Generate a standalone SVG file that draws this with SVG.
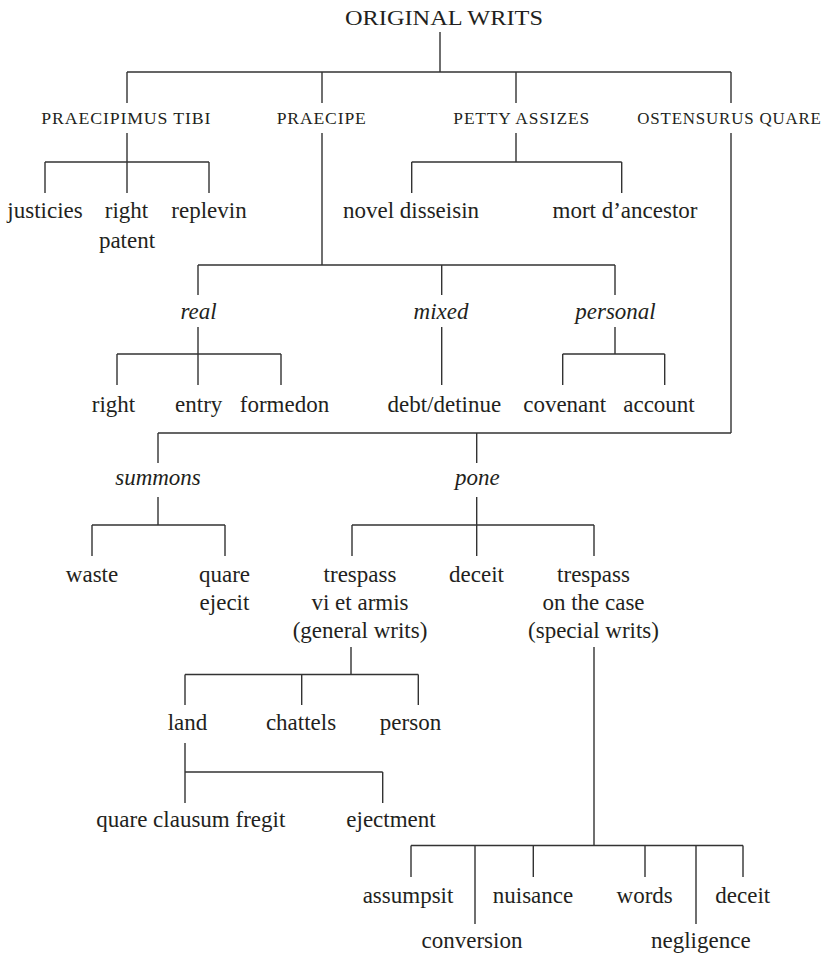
<svg xmlns="http://www.w3.org/2000/svg" width="828" height="955" viewBox="0 0 828 955">
<style>
  text { font-family: "Liberation Serif", "Times New Roman", serif; fill: #231f20; text-anchor: middle; }
  .n { font-size: 23px; }
  .i { font-size: 23px; font-style: italic; }
  .sc { font-size: 16.5px; letter-spacing: 0.8px; }
  .root { font-size: 22px; }
  #connectors path { fill: none; stroke: #333; stroke-width: 1.4; }
</style>
<rect width="828" height="955" fill="#ffffff"/>
<g id="connectors">
  <path d="M440,32V72 M127,72H731 M127,72V103 M322,72V103 M516,72V103 M731,72V103"/>
  <path d="M127,133V193 M45,162H209 M45,162V193 M209,162V193"/>
  <path d="M516,133V162 M411.7,162H621.7 M411.7,162V193 M621.7,162V193"/>
  <path d="M322,133V265 M198,265H615 M198,265V295 M441.7,265V295 M615,265V295"/>
  <path d="M198,327V385 M117,354H281 M117,354V385 M281,354V385"/>
  <path d="M441.7,327V385"/>
  <path d="M615,327V354 M562.7,354H664.7 M562.7,354V385 M664.7,354V385"/>
  <path d="M731,133V433 M158,433H731 M158,433V463 M476.7,433V463"/>
  <path d="M158,497V525 M92,525H225 M92,525V556 M225,525V556"/>
  <path d="M476.7,497V556 M352,525H594 M352,525V556 M594,525V556"/>
  <path d="M351,647V674.5 M185,674.5H418.3 M185,674.5V705 M301.7,674.5V705 M418.3,674.5V705"/>
  <path d="M185,743V803 M185,772H382.7 M382.7,772V803"/>
  <path d="M594,647V845.5 M411,845.5H743 M411,845.5V877 M475,845.5V924 M533.3,845.5V877 M645,845.5V877 M696,845.5V924 M743,845.5V877"/>
</g>
<g id="original-writs"><text class="root" x="444" y="25" textLength="198" lengthAdjust="spacingAndGlyphs">ORIGINAL WRITS</text></g>
<g id="praecipimus-tibi"><text class="sc" x="126.3" y="124" textLength="170" lengthAdjust="spacingAndGlyphs">PRAECIPIMUS TIBI</text></g>
<g id="praecipe"><text class="sc" x="321.7" y="124" textLength="90" lengthAdjust="spacingAndGlyphs">PRAECIPE</text></g>
<g id="petty-assizes"><text class="sc" x="521.7" y="124" textLength="136.7" lengthAdjust="spacingAndGlyphs">PETTY ASSIZES</text></g>
<g id="ostensurus-quare"><text class="sc" x="729.5" y="124" textLength="184.3" lengthAdjust="spacingAndGlyphs">OSTENSURUS QUARE</text></g>
<g id="justicies"><text class="n" x="45" y="218">justicies</text></g>
<g id="right-patent"><text class="n" x="126.5" y="218">right</text><text class="n" x="127" y="248">patent</text></g>
<g id="replevin"><text class="n" x="209" y="218">replevin</text></g>
<g id="novel-disseisin"><text class="n" x="411" y="218">novel disseisin</text></g>
<g id="mort-dancestor"><text class="n" x="625" y="218">mort d’ancestor</text></g>
<g id="real"><text class="i" x="198.5" y="319">real</text></g>
<g id="mixed"><text class="i" x="441" y="319">mixed</text></g>
<g id="personal"><text class="i" x="615.5" y="319">personal</text></g>
<g id="right"><text class="n" x="113.5" y="412">right</text></g>
<g id="entry"><text class="n" x="198.7" y="412">entry</text></g>
<g id="formedon"><text class="n" x="284.5" y="412">formedon</text></g>
<g id="debt-detinue"><text class="n" x="444.3" y="412">debt/detinue</text></g>
<g id="covenant"><text class="n" x="564.7" y="412">covenant</text></g>
<g id="account"><text class="n" x="659" y="412">account</text></g>
<g id="summons"><text class="i" x="158" y="485">summons</text></g>
<g id="pone"><text class="i" x="477.3" y="485">pone</text></g>
<g id="waste"><text class="n" x="92" y="582">waste</text></g>
<g id="quare-ejecit"><text class="n" x="224.5" y="582">quare</text><text class="n" x="224.5" y="610">ejecit</text></g>
<g id="trespass-vi-et-armis"><text class="n" x="360" y="582">trespass</text><text class="n" x="360" y="610">vi et armis</text><text class="n" x="360" y="638">(general writs)</text></g>
<g id="deceit-pone"><text class="n" x="476.5" y="582">deceit</text></g>
<g id="trespass-on-the-case"><text class="n" x="593.5" y="582">trespass</text><text class="n" x="593.5" y="610">on the case</text><text class="n" x="593.5" y="638">(special writs)</text></g>
<g id="land"><text class="n" x="187.5" y="730">land</text></g>
<g id="chattels"><text class="n" x="301" y="730">chattels</text></g>
<g id="person"><text class="n" x="410.5" y="730">person</text></g>
<g id="quare-clausum-fregit"><text class="n" x="190.8" y="827">quare clausum fregit</text></g>
<g id="ejectment"><text class="n" x="391" y="827">ejectment</text></g>
<g id="assumpsit"><text class="n" x="408" y="903">assumpsit</text></g>
<g id="conversion"><text class="n" x="472" y="948">conversion</text></g>
<g id="nuisance"><text class="n" x="533" y="903">nuisance</text></g>
<g id="words"><text class="n" x="644.7" y="903">words</text></g>
<g id="negligence"><text class="n" x="700.8" y="948">negligence</text></g>
<g id="deceit-case"><text class="n" x="742.8" y="903">deceit</text></g>
</svg>
